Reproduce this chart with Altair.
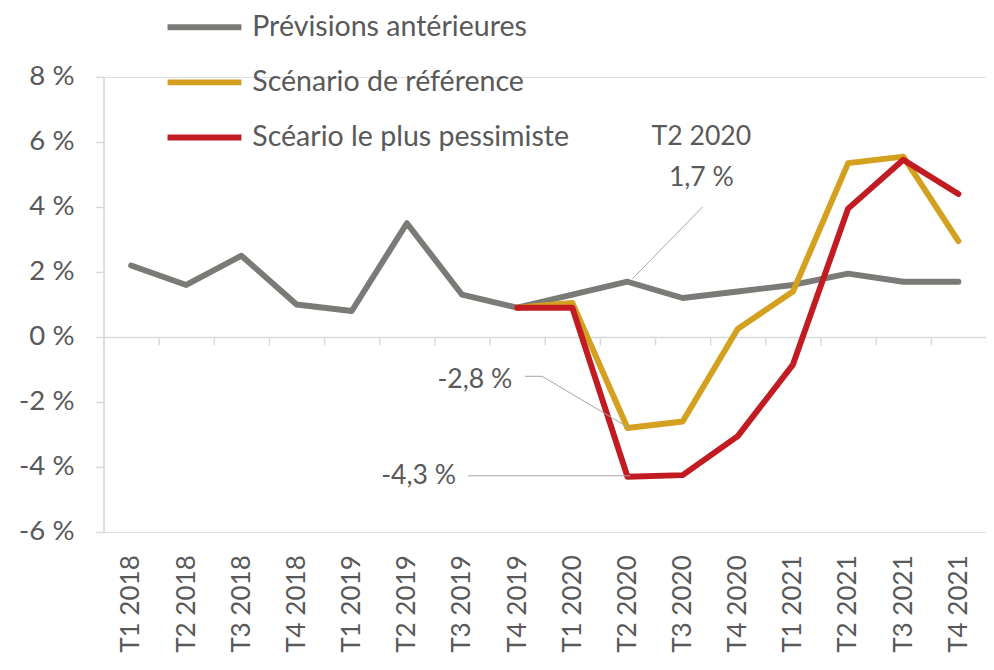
import altair as alt
import pandas as pd

quarters = ["T1 2018", "T2 2018", "T3 2018", "T4 2018",
            "T1 2019", "T2 2019", "T3 2019", "T4 2019",
            "T1 2020", "T2 2020", "T3 2020", "T4 2020",
            "T1 2021", "T2 2021", "T3 2021", "T4 2021"]
prev = [2.2, 1.6, 2.5, 1.0, 0.8, 3.5, 1.3, 0.9, 1.3, 1.7, 1.2, 1.4, 1.6, 1.95, 1.7, 1.7]
ref = [None] * 7 + [0.9, 1.05, -2.8, -2.6, 0.25, 1.4, 5.35, 5.55, 2.95]
pess = [None] * 7 + [0.9, 0.9, -4.3, -4.25, -3.05, -0.85, 3.95, 5.45, 4.4]
series_names = ["Prévisions antérieures", "Scénario de référence", "Scéario le plus pessimiste"]
colors = ["#7A7B76", "#D4A020", "#C21B22"]

y_ticks = [-6, -4, -2, 0, 2, 4, 6, 8]

# annotations (x in quarter-index units, y in %)
ann_text_c = ["T2 2020", "1,7 %"]
ann_u_c = [10.34, 10.34]
ann_v_c = [6.15, 4.88]
ann_text_r = ["-2,8 %", "-4,3 %"]
ann_u_r = [6.91, 5.89]
ann_v_r = [-1.33, -4.27]
lead_id = [0, 0, 1, 1, 1, 2, 2]
lead_ord = [0, 1, 0, 1, 2, 0, 1]
lead_u = [10.36, 9.09, 7.14, 7.45, 9.05, 6.11, 9.05]
lead_v = [4.0, 1.79, -1.21, -1.21, -2.82, -4.27, -4.27]

rows = []
for name, vals in zip(series_names, [prev, ref, pess]):
    for q, v in zip(quarters, vals):
        if v is not None:
            rows.append({"quarter": q, "value": v, "series": name})
df = pd.DataFrame(rows)

df_c = pd.DataFrame({"t": ann_text_c, "u": ann_u_c, "v": ann_v_c})
df_r = pd.DataFrame({"t": ann_text_r, "u": ann_u_r, "v": ann_v_r})
df_l = pd.DataFrame({"id": lead_id, "o": lead_ord, "u": lead_u, "v": lead_v})

STEP = 56
W = STEP * len(quarters)
H = 462
FONT = "Lato"
TXT = "#595959"
AXC = "#D9D9D9"

yscale = alt.Scale(domain=[-6, 8], nice=False, zero=False)
uscale = alt.Scale(domain=[-0.5, 15.5], nice=False, zero=False)

lines = alt.Chart(df).mark_line(strokeWidth=6, strokeCap="round", strokeJoin="round").encode(
    x=alt.X("quarter:N", sort=quarters, bandPosition=0.5,
            scale=alt.Scale(type="band", paddingInner=0, paddingOuter=0),
            axis=alt.Axis(title=None, orient="bottom", offset=-198, domainColor=AXC,
                          domainWidth=1.5, tickColor=AXC, tickWidth=1.5, tickSize=8,
                          tickBand="extent", labelAngle=-90, labelPadding=213,
                          labelFont=FONT, labelFontSize=26.5, labelColor=TXT, grid=False)),
    y=alt.Y("value:Q", scale=yscale,
            axis=alt.Axis(title=None, values=y_ticks, labelExpr="datum.value + ' %'",
                          tickSize=8, tickColor=AXC, tickWidth=1.5, domainColor=AXC,
                          domainWidth=1.5, labelPadding=22, labelFont=FONT,
                          labelFontSize=28, labelColor=TXT, grid=False)),
    color=alt.Color("series:N", sort=series_names,
                    scale=alt.Scale(domain=series_names, range=colors),
                    legend=alt.Legend(title=None, orient="none", legendX=62, legendY=-91,
                                      direction="vertical", symbolType="stroke",
                                      symbolSize=5625, symbolStrokeWidth=6,
                                      labelFont=FONT, labelFontSize=29, labelColor=TXT,
                                      labelOffset=8, labelLimit=0, rowPadding=-3)),
    detail="series:N",
)

lead = alt.Chart(df_l).mark_line(color="#A6A6A6", strokeWidth=1).encode(
    x=alt.X("u:Q", scale=uscale, axis=None),
    y=alt.Y("v:Q", scale=yscale),
    detail="id:N",
    order="o:Q",
)

txt_c = alt.Chart(df_c).mark_text(font=FONT, fontSize=27, color=TXT, align="center",
                                  baseline="middle").encode(
    x=alt.X("u:Q", scale=uscale, axis=None),
    y=alt.Y("v:Q", scale=yscale),
    text="t:N",
)
txt_r = alt.Chart(df_r).mark_text(font=FONT, fontSize=27, color=TXT, align="right",
                                  baseline="middle").encode(
    x=alt.X("u:Q", scale=uscale, axis=None),
    y=alt.Y("v:Q", scale=yscale),
    text="t:N",
)

chart = alt.layer(lines, lead, txt_c, txt_r).resolve_scale(x="independent").properties(
    width=W, height=H,
    autosize=alt.AutoSizeParams(type="none"),
    padding={"left": 97, "top": 65, "right": 0, "bottom": 127},
).configure_view(stroke=None).configure(background="white")

chart.save("out.html", embed_options={"renderer": "svg", "actions": False})
